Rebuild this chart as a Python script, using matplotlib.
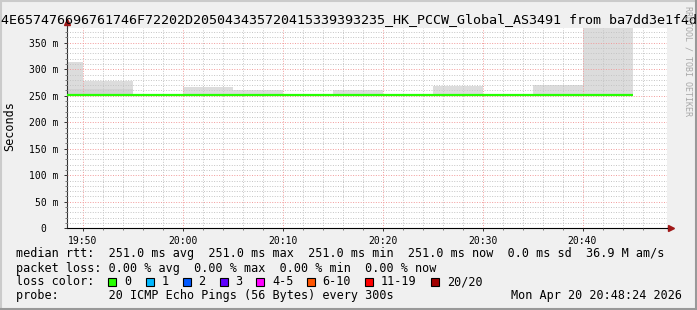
import matplotlib
matplotlib.use("Agg")
import matplotlib.pyplot as plt
from matplotlib.patches import Rectangle
from matplotlib.lines import Line2D

plt.rcParams['font.family'] = ['DejaVu Sans Mono', 'DejaVu Sans']

W, H = 697, 310

# 5 minute bins, start minute after 19:00
bin_start = [45, 50, 55, 60, 65, 70, 75, 80, 85, 90, 95, 100]
median_ms = [251.0, 251.0, 251.0, 251.0, 251.0, 251.0, 251.0, 251.0, 251.0, 251.0, 251.0, 251.0]
smoke_max = [313.0, 278.0, 251.0, 266.5, 260.7, 251.0, 260.7, 251.0, 269.0, 251.0, 270.0, 400.0]
smoke_inner = [262.5, 262.5, 251.0, 251.0, 251.0, 251.0, 251.0, 251.0, 251.0, 251.0, 251.0, 251.0]

x_ticks = [50, 60, 70, 80, 90, 100]
x_labels = ["19:50", "20:00", "20:10", "20:20", "20:30", "20:40"]
y_ticks = [0, 50, 100, 150, 200, 250, 300, 350]
y_labels = ["0  ", "50 m", "100 m", "150 m", "200 m", "250 m", "300 m", "350 m"]

title = "4E657476696761746F72202D205043435720415339393235_HK_PCCW_Global_AS3491 from ba7dd3e1f4d"
legend_rows = [
    "median rtt:  251.0 ms avg  251.0 ms max  251.0 ms min  251.0 ms now  0.0 ms sd  36.9 M am/s",
    "packet loss: 0.00 % avg  0.00 % max  0.00 % min  0.00 % now",
]
loss_labels = ["0", "1", "2", "3", "4-5", "6-10", "11-19", "20/20"]
loss_colors = ["#26ff00", "#00b8ff", "#0059ff", "#5e00ff", "#ff00ff", "#ff5500", "#ff0000", "#a10000"]
probe_text = "probe:       20 ICMP Echo Pings (56 Bytes) every 300s"
stamp = "Mon Apr 20 20:48:24 2026"

BACK = "#f0f0f0"


def fx(x):
    return x / W


def fy(y):
    return 1 - y / H


fig = plt.figure(figsize=(W / 100, H / 100), dpi=100, facecolor=BACK)

# plot area in pixels
left, right, top, bottom = 66.5, 666.5, 27.5, 228.3
ax = fig.add_axes([fx(left), fy(bottom), (right - left) / W, (bottom - top) / H])
ax.set_facecolor("white")
ax.set_xlim(48.4, 108.4)
ax.set_ylim(0, (bottom - top) / 0.5303)

# smoke
outer_h = [m - b for m, b in zip(smoke_max, median_ms)]
inner_h = [m - b for m, b in zip(smoke_inner, median_ms)]
ax.bar(bin_start, outer_h, width=5, bottom=median_ms, align="edge", color="#dcdcdc", lw=0, zorder=1)
ax.bar(bin_start, inner_h, width=5, bottom=median_ms, align="edge", color="#d2d2d2", lw=0, zorder=1.1)

# median line
ax.stairs(median_ms, bin_start + [105], baseline=None, color="#26ff00", lw=1.6, zorder=3)

# grid
ax.set_xticks(x_ticks)
ax.set_xticklabels(x_labels)
ax.set_xticks(range(50, 108, 2), minor=True)
ax.set_yticks(y_ticks)
ax.set_yticklabels(y_labels)
ax.set_yticks(range(0, 380, 10), minor=True)
ax.set_axisbelow(False)
ax.grid(which="minor", color="#c4c4c4", lw=0.7, ls=(0, (1, 1.6)))
ax.grid(which="major", color="#f29a9a", lw=0.7, ls=(0, (1, 1.6)))
ax.tick_params(which="major", length=2.5, width=0.7, labelsize=7, pad=3, color="#333333")
ax.tick_params(which="minor", length=1.2, width=0.6, color="#666666")

for s in ["top", "right"]:
    ax.spines[s].set_visible(False)
ax.spines["left"].set_color("#333333")
ax.spines["bottom"].set_color("black")
ax.spines["left"].set_linewidth(0.8)
ax.spines["bottom"].set_linewidth(0.8)

# axis extensions and arrows
ax.plot([1, 1.007], [0, 0], transform=ax.transAxes, clip_on=False, color="black", lw=0.8)
ax.plot(1.008, 0, marker=">", ms=4, color="#a01818", transform=ax.transAxes, clip_on=False)
ax.plot([0, 0], [1, 1.02], transform=ax.transAxes, clip_on=False, color="#333333", lw=0.8)
ax.plot(0, 1.025, marker="^", ms=4, color="#a01818", transform=ax.transAxes, clip_on=False)

# texts
fig.text(fx(349), fy(19.5), title, ha="center", va="center", fontsize=9.6)
fig.text(fx(10), fy(126), "Seconds", rotation=90, ha="center", va="center", fontsize=8.5)
fig.text(fx(688), fy(61), "RRDTOOL / TOBI OETIKER", rotation=270, ha="center", va="center",
         fontsize=6, color="#a8a8a8")

row_y = [254, 268.3, 281.7, 296]
fig.text(fx(16), fy(row_y[0]), legend_rows[0], ha="left", va="center", fontsize=8.5)
fig.text(fx(16), fy(row_y[1]), legend_rows[1], ha="left", va="center", fontsize=8.5)
fig.text(fx(16), fy(row_y[2]), "loss color:", ha="left", va="center", fontsize=8.5)
sq_x = [108, 145.5, 182.5, 219.5, 256, 306.5, 365, 431]
for x, lab, col in zip(sq_x, loss_labels, loss_colors):
    fig.add_artist(Rectangle((fx(x), fy(row_y[2] + 4)), 8 / W, 8 / H, transform=fig.transFigure,
                             facecolor=col, edgecolor="black", lw=0.8))
    fig.text(fx(x + 16), fy(row_y[2]), lab, ha="left", va="center", fontsize=8.5)
fig.text(fx(16), fy(row_y[3]), probe_text, ha="left", va="center", fontsize=8.5)
fig.text(fx(682), fy(row_y[3]), stamp, ha="right", va="center", fontsize=8.5)

# 3d border
fig.add_artist(Line2D([0, 1], [fy(1), fy(1)], transform=fig.transFigure, color="#cbcbcb", lw=1.5))
fig.add_artist(Line2D([fx(1), fx(1)], [0, 1], transform=fig.transFigure, color="#cbcbcb", lw=1.5))
fig.add_artist(Line2D([0, 1], [fy(309), fy(309)], transform=fig.transFigure, color="#999999", lw=1.5))
fig.add_artist(Line2D([fx(696), fx(696)], [0, 1], transform=fig.transFigure, color="#999999", lw=1.5))

fig.savefig("out.png", dpi=100, facecolor=BACK)
